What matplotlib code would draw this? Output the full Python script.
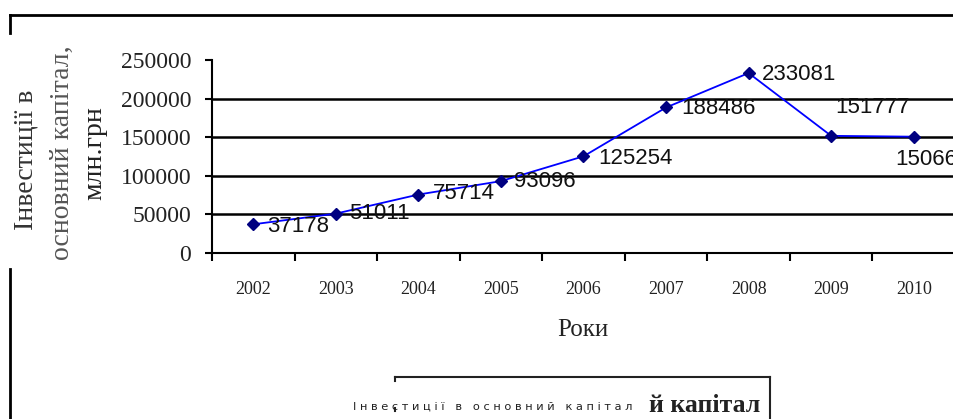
#-*- coding: utf-8-*-

import matplotlib
matplotlib.use('Agg')
import matplotlib.pyplot as plt
from matplotlib.lines import Line2D

years = ['2002', '2003', '2004', '2005', '2006', '2007', '2008', '2009', '2010']
invest = [37178, 51011, 75714, 93096, 125254, 188486, 233081, 151777, 150667]
yticks = [0, 50000, 100000, 150000, 200000, 250000]

ylabel_lines = ['Інвестиції в', 'основний капітал,', 'млн.грн']
xlabel = 'Роки'
legend_text = 'І н в е с т и ц і ї   в   о с н о в н и й   к а п і т а л'
legend_tail = 'й капітал'

# label offsets in pixels (dx, dy up), per point
lab_off = [(14, -2), (13, 0), (14, 1), (13, 0), (15, -2), (15, -1), (13, -1), (4, 28), (-18, -23)]

W, H = 954, 419
fig = plt.figure(figsize=(W / 100, H / 100), dpi=100)
serif = 'Liberation Serif'

def fx(px): return px / W
def fy(py): return 1 - py / H

ax = fig.add_axes([fx(212), fy(253), (955 - 212) / W, 193 / H])
x = list(range(len(years)))
ax.plot(x, invest, color='#0000ff', lw=1.3, marker='D', ms=6,
        mfc='#000080', mec='#000080', zorder=3)

for i, v in enumerate(invest):
    dx, dy = lab_off[i]
    ax.annotate(str(v), xy=(i, v), xytext=(dx * 0.72, dy * 0.72), textcoords='offset points',
                ha='left', va='center', fontsize=16, family='Liberation Sans',
                color='#111111', annotation_clip=False, zorder=4)

ax.set_xlim(-0.5, len(years) - 0.5)
ax.set_ylim(0, 250000)
ax.set_yticks(yticks)
ax.set_yticklabels([str(t) for t in yticks], family=serif, fontsize=17, color='#222222')
ax.tick_params(axis='y', direction='out', length=5, width=1.5, pad=10)

ax.set_xticks([i - 0.5 for i in range(len(years) + 1)])
ax.set_xticklabels([])
ax.set_xticks(x, minor=True)
ax.set_xticklabels(years, minor=True, family=serif, fontsize=13, color='#222222')
ax.tick_params(axis='x', which='major', direction='out', length=6, width=1.5)
ax.tick_params(axis='x', which='minor', length=0, pad=20)

ax.yaxis.grid(True, color='black', lw=1.8)
ax.get_ygridlines()[-1].set_visible(False)
ax.set_axisbelow(True)
for s in ['top', 'right']:
    ax.spines[s].set_visible(False)
for s in ['left', 'bottom']:
    ax.spines[s].set_linewidth(1.5)
    ax.spines[s].set_color('black')

# y label, three separate lines
for xp, yp, txt, col in zip([26, 62, 95], [160, 153, 153], ylabel_lines, ['#333333', '#555555', '#222222']):
    fig.text(fx(xp), fy(yp), txt, rotation=90, ha='center', va='center',
             family=serif, fontsize=20, color=col)

fig.text(fx(583), fy(330), xlabel, ha='center', va='center', family=serif, fontsize=18, color='#222222')

# frame pieces
frame = [((10, 15), (954, 15)), ((10, 15), (10, 33)), ((10, 269), (10, 419))]
for (x0, y0), (x1, y1) in frame:
    fig.add_artist(Line2D([fx(x0), fx(x1)], [fy(y0), fy(y1)], color='black', lw=2))
box = [((395, 377), (770, 377)), ((770, 377), (770, 419)), ((395, 377), (395, 381)), ((395, 408), (395, 411))]
for (x0, y0), (x1, y1) in box:
    fig.add_artist(Line2D([fx(x0), fx(x1)], [fy(y0), fy(y1)], color='#222222', lw=1.5))

fig.text(fx(353), fy(407), legend_text, ha='left', va='center', family='DejaVu Sans', fontsize=8.2, color='#222222')
fig.text(fx(760), fy(405), legend_tail, ha='right', va='center', family=serif, fontsize=18.5,
         weight='bold', color='#222222')

fig.savefig('out.png', dpi=100)
